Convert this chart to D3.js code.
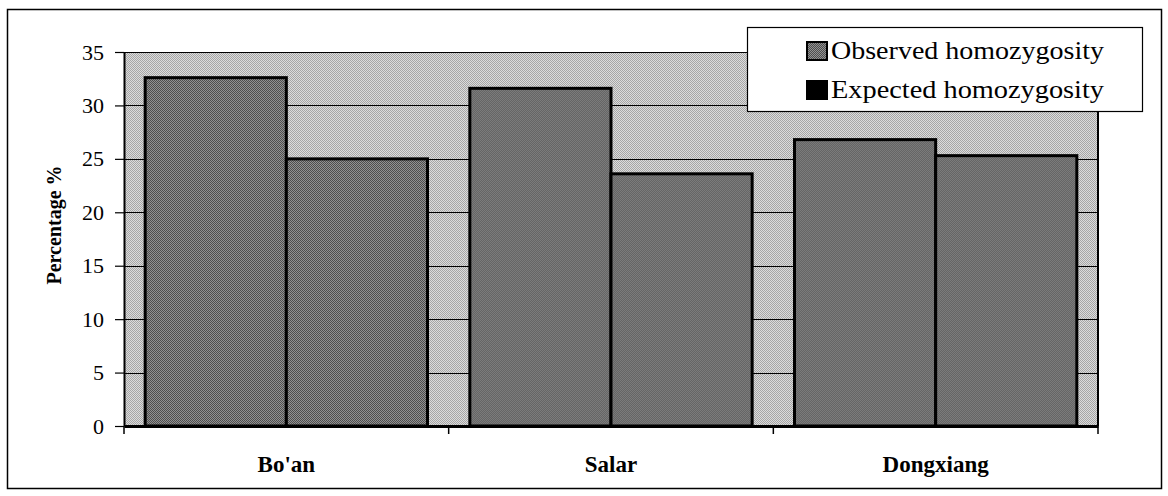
<!DOCTYPE html>
<html><head><meta charset="utf-8">
<script src="https://cdn.jsdelivr.net/npm/d3@7/dist/d3.min.js"></script>
<style>html,body{margin:0;padding:0;background:#fff;}svg{display:block;}</style>
</head><body><svg id="chart" width="1168" height="496"></svg>
<script>
const categories = ["Bo'an", "Salar", "Dongxiang"];
const seriesNames = ["Observed homozygosity", "Expected homozygosity"];
const observed = [32.6, 31.6, 26.8];
const expected = [25.0, 23.6, 25.3];
const yTicks = [0, 5, 10, 15, 20, 25, 30, 35];

const svg = d3.select("#chart");
const font = "'Liberation Serif','Times New Roman',serif";
const defs = svg.append("defs");
function halftone(id, base, dot) {
  const p = defs.append("pattern").attr("id", id).attr("width", 2).attr("height", 2).attr("patternUnits", "userSpaceOnUse");
  p.append("rect").attr("width", 2).attr("height", 2).attr("fill", base);
  p.append("rect").attr("width", 1).attr("height", 1).attr("fill", dot);
  p.append("rect").attr("x", 1).attr("y", 1).attr("width", 1).attr("height", 1).attr("fill", dot);
}
halftone("bgPat", "#dcdcdc", "#a6a6a6");
halftone("barPat", "#929292", "#4e4e4e");

// outer frame
svg.append("rect").attr("x", 7.5).attr("y", 9.5).attr("width", 1154).attr("height", 479)
  .attr("fill", "none").attr("stroke", "#000").attr("stroke-width", 1.5);

const x0 = d3.scaleBand().domain(categories).range([124, 1098]).paddingInner(0).paddingOuter(0);
const x1 = d3.scaleBand().domain(seriesNames).range([0, x0.bandwidth()]).paddingInner(0).paddingOuter(0.15);
const y = d3.scaleLinear().domain([0, 35]).range([426, 52]);

// plot background
svg.append("rect").attr("x", 124).attr("y", y(35)).attr("width", 974).attr("height", y(0) - y(35))
  .attr("fill", "url(#bgPat)");

// gridlines
svg.append("g").selectAll("line").data(yTicks.filter(d => d > 0)).join("line")
  .attr("x1", 124).attr("x2", 1098).attr("y1", d => Math.round(y(d)) + 0.5).attr("y2", d => Math.round(y(d)) + 0.5)
  .attr("stroke", "#000").attr("stroke-width", 1.2);
// right border
svg.append("line").attr("x1", 1098).attr("x2", 1098).attr("y1", y(35)).attr("y2", y(0))
  .attr("stroke", "#000").attr("stroke-width", 2);

// bars
const data = categories.map((c, i) => ({ cat: c, vals: [observed[i], expected[i]] }));
const g = svg.append("g").selectAll("g").data(data).join("g")
  .attr("transform", d => `translate(${x0(d.cat)},0)`);
g.selectAll("rect").data(d => d.vals.map((v, j) => ({ s: seriesNames[j], v }))).join("rect")
  .attr("x", d => x1(d.s)).attr("width", x1.bandwidth())
  .attr("y", d => y(d.v)).attr("height", d => y(0) - y(d.v))
  .attr("fill", "url(#barPat)")
  .attr("stroke", "#000").attr("stroke-width", 3);

// y axis
const yAxis = svg.append("g").attr("transform", "translate(124,0)")
  .call(d3.axisLeft(y).tickValues(yTicks).tickSize(9).tickPadding(11).tickSizeOuter(0));
yAxis.select(".domain").attr("stroke", "#000").attr("stroke-width", 2);
yAxis.selectAll(".tick line").attr("stroke", "#000").attr("stroke-width", 1.2);
yAxis.selectAll(".tick text").attr("font-family", font).attr("font-size", 22).attr("fill", "#000");

// x axis
const xAxis = svg.append("g").attr("transform", `translate(0,${y(0)})`)
  .call(d3.axisBottom(x0).tickSize(0).tickPadding(30));
xAxis.select(".domain").attr("stroke", "#000").attr("stroke-width", 3);
xAxis.selectAll(".tick text").attr("font-family", font).attr("font-size", 23).attr("font-weight", "bold").attr("fill", "#000");
// category boundary ticks
svg.append("g").selectAll("line").data([124, 124 + x0.step(), 124 + 2 * x0.step(), 1098]).join("line")
  .attr("x1", d => d).attr("x2", d => d).attr("y1", y(0)).attr("y2", y(0) + 8)
  .attr("stroke", "#000").attr("stroke-width", 1.5);

// y label
svg.append("text").attr("transform", "translate(61,225) rotate(-90)")
  .attr("text-anchor", "middle").attr("font-family", font).attr("font-size", 20).attr("font-weight", "bold")
  .text("Percentage %");

// legend
const lg = svg.append("g");
lg.append("rect").attr("x", 747.5).attr("y", 27.5).attr("width", 395).attr("height", 84)
  .attr("fill", "#fff").attr("stroke", "#000").attr("stroke-width", 1.2);
const rows = lg.selectAll("g").data(seriesNames).join("g")
  .attr("transform", (d, i) => `translate(807,${42 + i * 39})`);
rows.append("rect").attr("width", 20).attr("height", 18)
  .attr("fill", (d, i) => i === 0 ? "url(#barPat)" : "#000").attr("stroke", "#000").attr("stroke-width", 2);
rows.append("text").attr("x", 24).attr("y", 17).attr("font-family", font).attr("font-size", 26)
  .attr("textLength", 273).attr("lengthAdjust", "spacingAndGlyphs").text(d => d);
</script></body></html>
